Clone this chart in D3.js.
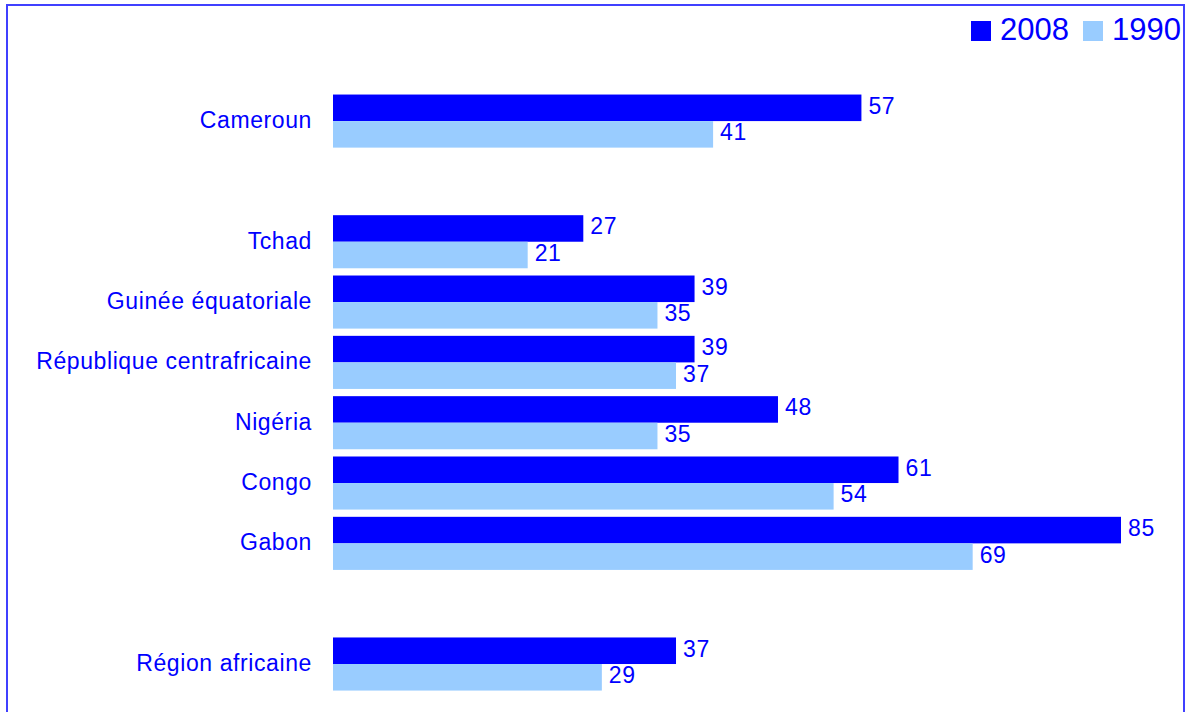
<!DOCTYPE html>
<html>
<head>
<meta charset="utf-8">
<script src="https://cdn.jsdelivr.net/npm/d3@7"></script>
<style>
  html, body { margin: 0; padding: 0; background: #fff; }
  svg { display: block; }
  text { font-family: "Liberation Sans", Arial, sans-serif; fill: #0000ff; }
</style>
</head>
<body>
<svg id="chart" width="1192" height="712"></svg>
<script>
// Data (slots with empty name are spacer rows)
const categories = ["Cameroun", "", "Tchad", "Guinée équatoriale", "République centrafricaine", "Nigéria", "Congo", "Gabon", "", "Région africaine"];
const values2008 = [57, null, 27, 39, 39, 48, 61, 85, null, 37];
const values1990 = [41, null, 21, 35, 37, 35, 54, 69, null, 29];
const seriesNames = ["2008", "1990"];
const seriesColors = ["#0000ff", "#99ccff"];

const svg = d3.select("#chart");

// frame
svg.append("rect")
  .attr("x", 7).attr("y", 5)
  .attr("width", 1177).attr("height", 720)
  .attr("fill", "none")
  .attr("stroke", "#4040ff")
  .attr("stroke-width", 2);

const slots = categories.map((c, i) => "s" + i);
const y = d3.scaleBand().domain(slots).range([87.3, 697.8]).paddingInner(0.12).paddingOuter(0.12);
const x = d3.scaleLinear().domain([0, 85]).range([333, 1121]);
const sub = d3.scaleBand().domain(seriesNames).range([0, y.bandwidth()]);

const rows = categories.map((c, i) => ({ name: c, slot: slots[i], vals: [values2008[i], values1990[i]] }))
  .filter(d => d.name !== "");

const g = svg.append("g");
rows.forEach(r => {
  const y0 = y(r.slot);
  g.append("text")
    .attr("x", 312)
    .attr("y", y0 + y.bandwidth() / 2 - 1)
    .attr("text-anchor", "end")
    .attr("dominant-baseline", "central")
    .style("font-size", "23px")
    .style("letter-spacing", "0.6px")
    .text(r.name);
  seriesNames.forEach((s, j) => {
    const v = r.vals[j];
    g.append("rect")
      .attr("x", x(0))
      .attr("y", y0 + sub(s))
      .attr("width", x(v) - x(0))
      .attr("height", sub.bandwidth())
      .attr("fill", seriesColors[j]);
    g.append("text")
      .attr("x", x(v) + 7)
      .attr("y", y0 + sub(s) + sub.bandwidth() / 2 - 2)
      .attr("dominant-baseline", "central")
      .style("font-size", "23px")
      .style("letter-spacing", "0.6px")
      .text(v);
  });
});

// legend
const leg = svg.append("g");
const legX = [971, 1083];
seriesNames.forEach((s, j) => {
  leg.append("rect")
    .attr("x", legX[j]).attr("y", 21)
    .attr("width", 20).attr("height", 20)
    .attr("fill", seriesColors[j]);
  leg.append("text")
    .attr("x", legX[j] + 29)
    .attr("y", 40)
    .style("font-size", "31px")
    .text(s);
});
</script>
</body>
</html>
